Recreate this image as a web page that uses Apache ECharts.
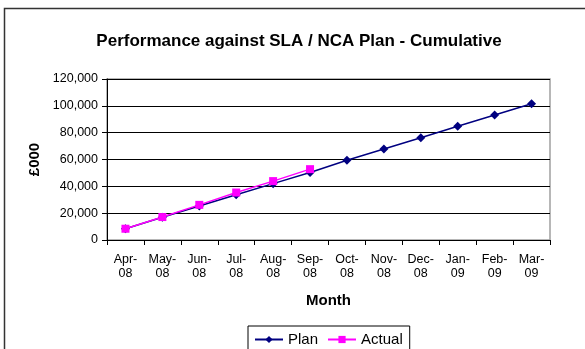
<!DOCTYPE html>
<html>
<head>
<meta charset="utf-8">
<script src="https://cdn.jsdelivr.net/npm/echarts@6/dist/echarts.min.js"></script>
<style>
  html, body { margin: 0; padding: 0; background: #fff; }
  #chart { width: 585px; height: 349px; }
</style>
</head>
<body>
<div id="chart"></div>
<script>
// Months of the financial year
const months = ['Apr-\n08', 'May-\n08', 'Jun-\n08', 'Jul-\n08', 'Aug-\n08', 'Sep-\n08',
                'Oct-\n08', 'Nov-\n08', 'Dec-\n08', 'Jan-\n09', 'Feb-\n09', 'Mar-\n09'];
// Cumulative plan (£000)
const planValues = [8400, 16900, 25300, 33700, 42000, 50300, 59500, 67800, 76200, 84800, 93100, 101500];
// Cumulative actual to date (£000)
const actualValues = [8400, 17100, 26200, 35400, 43900, 52800];
// Value axis range
const yMin = 0, yMax = 120000, yStep = 20000;

const font = 'Liberation Sans, Arial, sans-serif';
const chart = echarts.init(document.getElementById('chart'), null, { renderer: 'canvas' });

chart.setOption({
  animation: false,
  backgroundColor: '#fff',
  graphic: [{
    type: 'rect',
    shape: { x: 4.5, y: 8.5, width: 640, height: 400 },
    style: { fill: 'none', stroke: '#333', lineWidth: 1.5 },
    silent: true
  }],
  title: {
    text: 'Performance against SLA / NCA Plan - Cumulative',
    left: 294,
    textAlign: 'center',
    top: 28,
    textStyle: { fontFamily: font, fontSize: 17, fontWeight: 'bold', color: '#000' }
  },
  grid: {
    left: 107, top: 79, right: 35, bottom: 109,
    show: true, borderColor: '#a0a0a0', borderWidth: 1.5, backgroundColor: '#fff'
  },
  legend: {
    left: 248, top: 326,
    orient: 'horizontal',
    borderColor: '#000', borderWidth: 1,
    padding: [6, 7, 6, 6],
    itemGap: 9,
    itemWidth: 28, itemHeight: 9,
    textStyle: { fontFamily: font, fontSize: 15, color: '#000' },
    data: ['Plan', 'Actual']
  },
  xAxis: {
    type: 'category',
    data: months,
    boundaryGap: true,
    name: 'Month',
    nameLocation: 'middle',
    nameGap: 53,
    nameTextStyle: { fontFamily: font, fontSize: 15, fontWeight: 'bold', color: '#000' },
    axisLine: { lineStyle: { color: '#000', width: 1 } },
    axisTick: { show: true, alignWithLabel: false, length: 5, lineStyle: { color: '#000' } },
    axisLabel: { interval: 0, fontFamily: font, fontSize: 12.5, color: '#000', lineHeight: 14.5, margin: 12 },
    splitLine: { show: false }
  },
  yAxis: {
    type: 'value',
    min: yMin, max: yMax, interval: yStep,
    name: '£000',
    nameLocation: 'middle',
    nameRotate: 90,
    nameGap: 64,
    nameTextStyle: { fontFamily: font, fontSize: 15, fontWeight: 'bold', color: '#000' },
    axisLine: { show: true, lineStyle: { color: '#000', width: 1 } },
    axisTick: { show: true, inside: false, length: 5, lineStyle: { color: '#000' } },
    axisLabel: {
      fontFamily: font, fontSize: 12.5, color: '#000', margin: 9,
      formatter: v => v.toLocaleString('en-GB')
    },
    splitLine: { show: true, lineStyle: { color: '#000', width: 1 } }
  },
  series: [
    {
      name: 'Plan',
      type: 'line',
      data: planValues,
      symbol: 'diamond',
      symbolSize: 9,
      itemStyle: { color: '#000080' },
      lineStyle: { color: '#000080', width: 1.5 },
      z: 2
    },
    {
      name: 'Actual',
      type: 'line',
      data: actualValues,
      symbol: 'rect',
      symbolSize: 8,
      itemStyle: { color: '#ff00ff' },
      lineStyle: { color: '#ff00ff', width: 1.5 },
      z: 3
    }
  ]
});
</script>
</body>
</html>
